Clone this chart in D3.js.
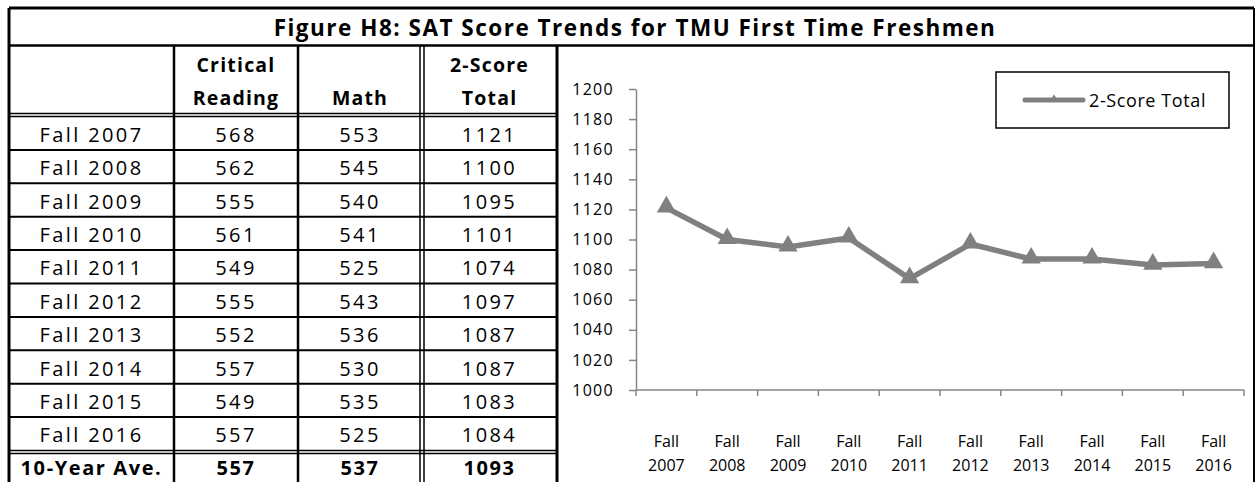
<!DOCTYPE html>
<html>
<head>
<meta charset="utf-8">
<script src="https://cdn.jsdelivr.net/npm/d3@7"></script>
<style>
  body { margin: 0; background: #fff; }
  svg { display: block; font-family: "Open Sans", sans-serif; }
</style>
</head>
<body>
<svg id="fig" width="1259" height="482"></svg>
<script>
const title = "Figure H8: SAT Score Trends for TMU First Time Freshmen";
const terms = ["Fall 2007", "Fall 2008", "Fall 2009", "Fall 2010", "Fall 2011",
  "Fall 2012", "Fall 2013", "Fall 2014", "Fall 2015", "Fall 2016"];
const reading = [568, 562, 555, 561, 549, 555, 552, 557, 549, 557];
const math = [553, 545, 540, 541, 525, 543, 536, 530, 535, 525];
const total = [1121, 1100, 1095, 1101, 1074, 1097, 1087, 1087, 1083, 1084];
const averageRow = ["10-Year Ave.", 557, 537, 1093];
const headers = [[""], ["Critical", "Reading"], ["Math"], ["2-Score", "Total"]];
const yTicks = [1000, 1020, 1040, 1060, 1080, 1100, 1120, 1140, 1160, 1180, 1200];
const seriesName = "2-Score Total";

const svg = d3.select("#fig");
const gray = "#808080";

// table geometry
const colX = [9, 174, 298, 422, 557];
const titleTop = 8, titleBottom = 45.5, headBottom = 116.5, rowH = 33.4;
const rowY = i => headBottom + i * rowH;

// title
svg.append("text")
  .attr("x", 635).attr("y", 27)
  .attr("text-anchor", "middle").attr("dominant-baseline", "central")
  .attr("font-size", 22.5).attr("font-weight", "bold")
  .attr("letter-spacing", 1.5)
  .text(title);

// header text
headers.forEach((lines, c) => {
  const cx = (colX[c] + colX[c + 1]) / 2;
  lines.forEach((t, j) => {
    const y = lines.length === 2 ? [64, 97][j] : 97;
    svg.append("text")
      .attr("x", cx).attr("y", y)
      .attr("text-anchor", "middle").attr("dominant-baseline", "central")
      .attr("font-size", 19.5).attr("font-weight", "bold")
      .attr("letter-spacing", 1.2)
      .text(t);
  });
});

// body rows
const rows = terms.map((t, i) => [t, reading[i], math[i], total[i]]);
rows.forEach((r, i) => {
  r.forEach((v, c) => {
    svg.append("text")
      .attr("x", (colX[c] + colX[c + 1]) / 2)
      .attr("y", rowY(i) + rowH / 2 + 1)
      .attr("text-anchor", "middle").attr("dominant-baseline", "central")
      .attr("font-size", 20).attr("letter-spacing", 2.4)
      .text(v);
  });
});
const avgTop = rowY(10) + 3;
averageRow.forEach((v, c) => {
  svg.append("text")
    .attr("x", (colX[c] + colX[c + 1]) / 2)
    .attr("y", avgTop + rowH / 2 - 3)
    .attr("text-anchor", "middle").attr("dominant-baseline", "central")
    .attr("font-size", 20).attr("font-weight", "bold").attr("letter-spacing", 1.6)
    .text(v);
});

// table lines
const lines = svg.append("g").attr("stroke", "#000");
lines.append("line").attr("x1", 9).attr("x2", 1254).attr("y1", titleTop).attr("y2", titleTop).attr("stroke-width", 3);
lines.append("line").attr("x1", 9).attr("x2", 1254).attr("y1", titleBottom).attr("y2", titleBottom).attr("stroke-width", 2.5);
lines.append("line").attr("x1", 9).attr("x2", 9).attr("y1", titleTop).attr("y2", 482).attr("stroke-width", 3);
lines.append("line").attr("x1", 1254).attr("x2", 1254).attr("y1", titleTop).attr("y2", 482).attr("stroke-width", 2);
[174, 298].forEach(x => lines.append("line").attr("x1", x).attr("x2", x).attr("y1", titleBottom).attr("y2", 482).attr("stroke-width", 2.5));
[420, 424].forEach(x => lines.append("line").attr("x1", x).attr("x2", x).attr("y1", titleBottom).attr("y2", 482).attr("stroke-width", 1.5));
lines.append("line").attr("x1", 557).attr("x2", 557).attr("y1", titleBottom).attr("y2", 482).attr("stroke-width", 3);
[headBottom - 3, headBottom, rowY(10), rowY(10) + 3].forEach(y =>
  lines.append("line").attr("x1", 9).attr("x2", 557).attr("y1", y).attr("y2", y).attr("stroke-width", 1.5));
d3.range(1, 10).forEach(i =>
  lines.append("line").attr("x1", 9).attr("x2", 557).attr("y1", rowY(i)).attr("y2", rowY(i)).attr("stroke-width", 2));

// chart
const x = d3.scaleBand().domain(terms).range([636, 1244]);
const y = d3.scaleLinear().domain([1000, 1200]).range([390, 89]);

const yAxis = svg.append("g")
  .attr("transform", "translate(636,0)")
  .call(d3.axisLeft(y).tickValues(yTicks).tickFormat(d3.format("d"))
    .tickSize(7).tickPadding(15).tickSizeOuter(0));
yAxis.selectAll("text")
  .style("font-size", "16px").style("letter-spacing", "1.3px")
  .style("font-family", "Open Sans").attr("fill", "#000");
yAxis.selectAll("line, path").attr("stroke", "#868686").attr("stroke-width", 1.5);

const xAxis = svg.append("g").attr("transform", "translate(0,390)");
xAxis.append("line").attr("x1", 636).attr("x2", 1244).attr("stroke", "#868686").attr("stroke-width", 1.5);
xAxis.selectAll(".tk").data(terms.concat(["end"])).enter().append("line")
  .attr("x1", (d, i) => 636 + i * x.step()).attr("x2", (d, i) => 636 + i * x.step())
  .attr("y1", 0).attr("y2", 6).attr("stroke", "#868686").attr("stroke-width", 1.5);
terms.forEach(t => {
  const [a, b] = t.split(" ");
  const lbl = xAxis.append("text").attr("text-anchor", "middle")
    .attr("font-size", 16).attr("fill", "#000");
  lbl.append("tspan").attr("x", x(t) + x.bandwidth() / 2).attr("y", 57).text(a);
  lbl.append("tspan").attr("x", x(t) + x.bandwidth() / 2).attr("y", 81).text(b);
});

const line = d3.line().x((d, i) => x(terms[i]) + x.bandwidth() / 2).y(d => y(d));
svg.append("path").datum(total)
  .attr("d", line).attr("fill", "none")
  .attr("stroke", gray).attr("stroke-width", 5.5).attr("stroke-linejoin", "round");
const tri = d3.symbol().type(d3.symbolTriangle).size(160);
svg.selectAll(".pt").data(total).enter().append("path")
  .attr("transform", (d, i) => `translate(${x(terms[i]) + x.bandwidth() / 2},${y(d) - 1})`)
  .attr("d", tri).attr("fill", gray);

// legend
const lg = svg.append("g");
lg.append("rect").attr("x", 996).attr("y", 72).attr("width", 233).attr("height", 56)
  .attr("fill", "#fff").attr("stroke", "#000").attr("stroke-width", 1.5);
lg.append("line").attr("x1", 1025).attr("x2", 1083).attr("y1", 100).attr("y2", 100)
  .attr("stroke", gray).attr("stroke-width", 5).attr("stroke-linecap", "round");
lg.append("path").attr("transform", "translate(1054,99)")
  .attr("d", d3.symbol().type(d3.symbolTriangle).size(30)).attr("fill", gray);
lg.append("text").attr("x", 1089).attr("y", 100).attr("dominant-baseline", "central")
  .attr("font-size", 18).attr("letter-spacing", 0.6).text(seriesName);
</script>
</body>
</html>
